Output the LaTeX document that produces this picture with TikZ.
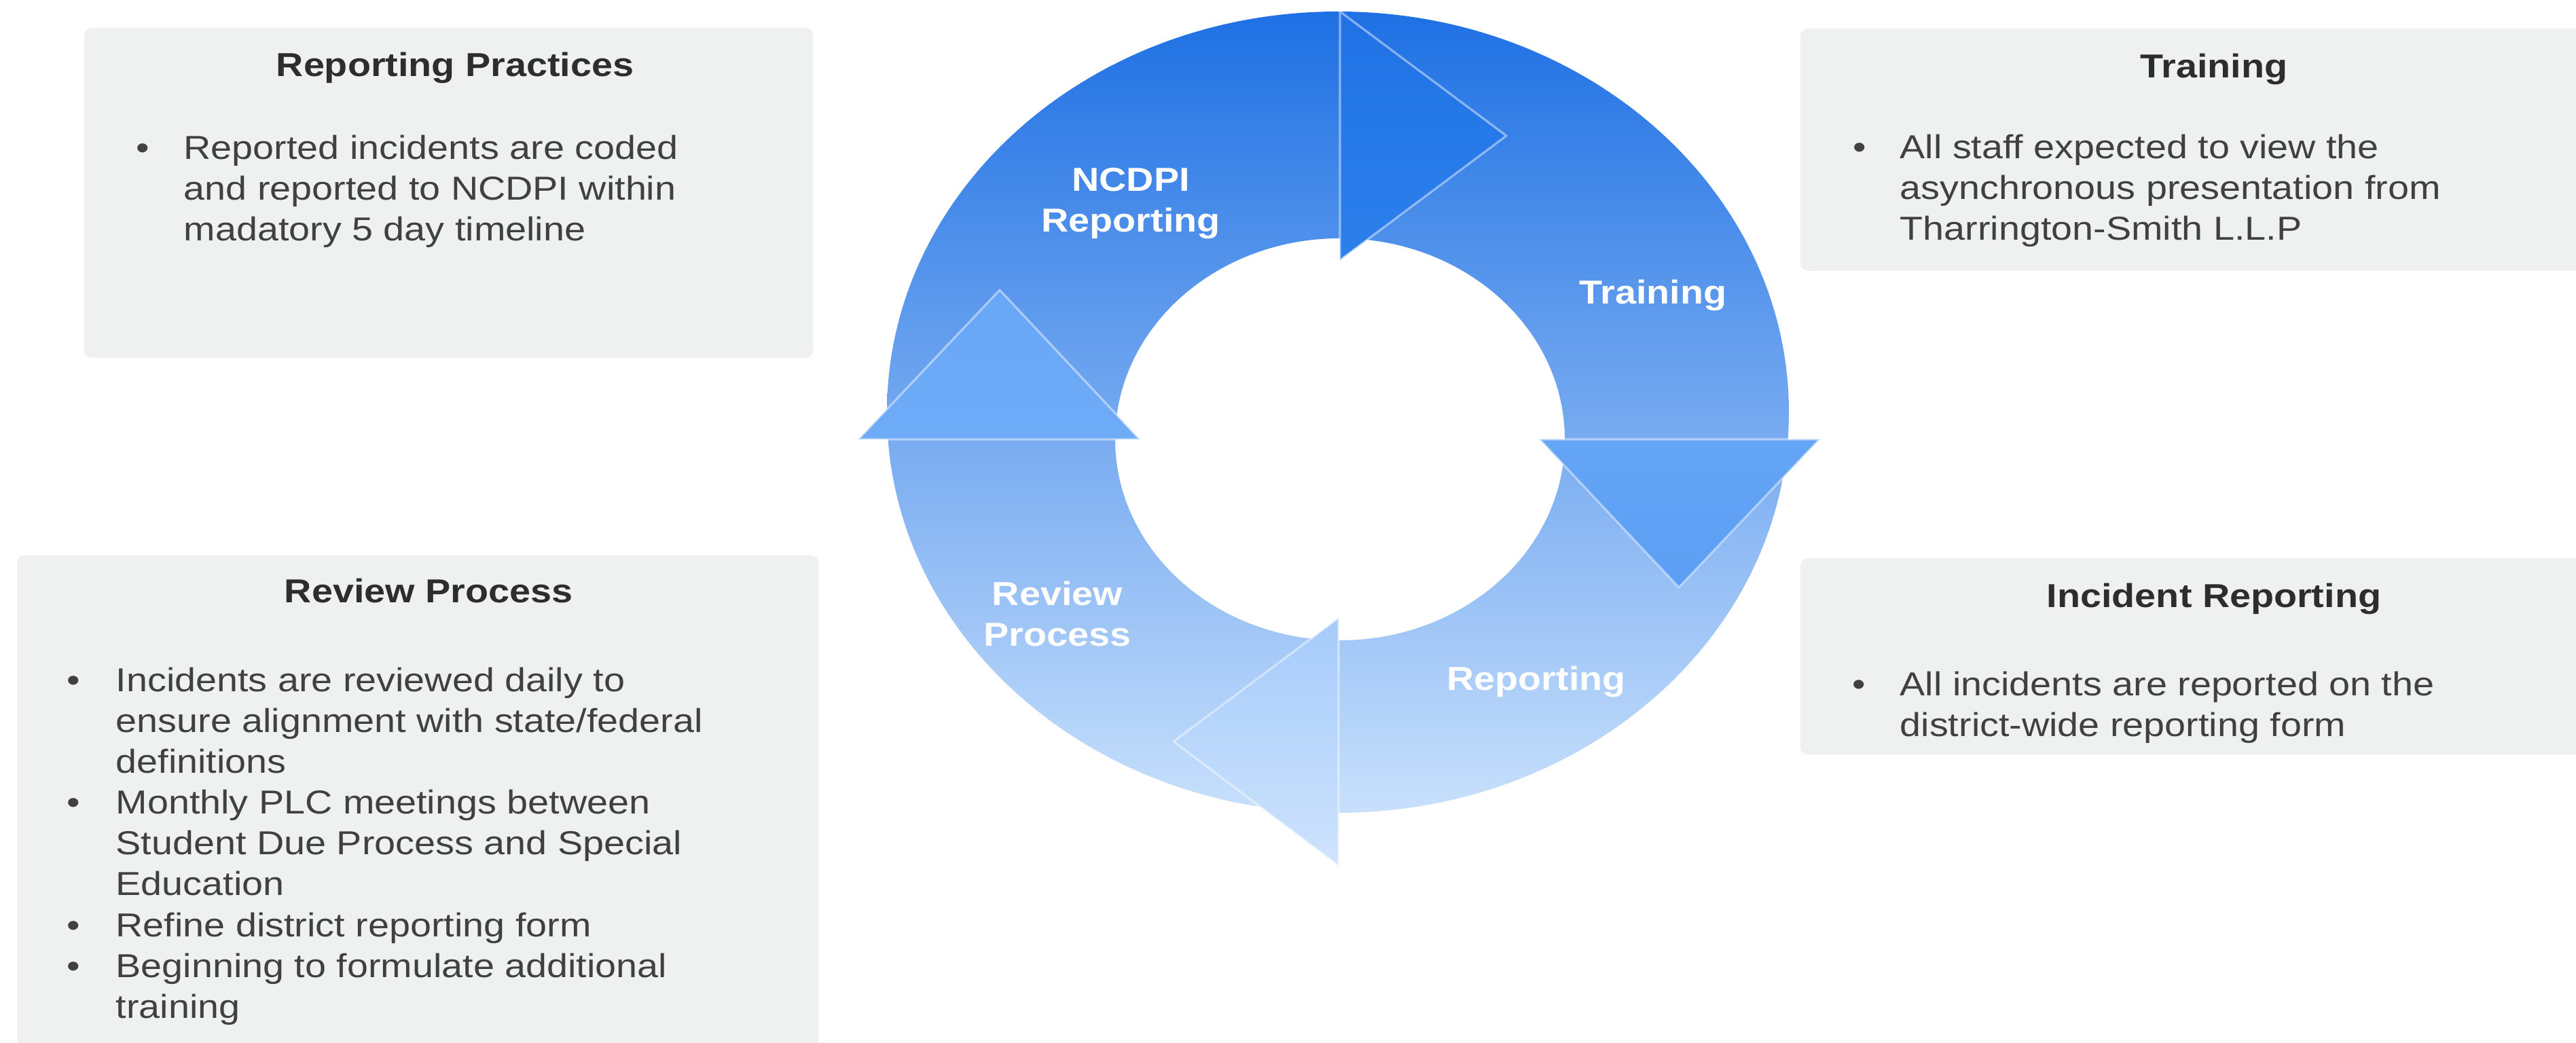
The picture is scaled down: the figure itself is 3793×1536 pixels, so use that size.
\documentclass[tikz,border=0pt]{standalone}
\usepackage{fontspec}
\setmainfont{Liberation Sans}[FakeStretch=1.14]
\usepackage{tikz}

\definecolor{boxgray}{RGB}{239,240,240}
\definecolor{txtgray}{RGB}{64,64,64}
\definecolor{ttlgray}{RGB}{45,45,45}
\definecolor{ringA}{RGB}{30,112,228}
\definecolor{ringB}{RGB}{98,166,248}
\definecolor{ringC}{RGB}{200,224,252}

\tikzset{
  infobox/.style={fill=boxgray, rounded corners=3pt},
  boxtitle/.style={font=\bfseries, text=ttlgray, anchor=base, inner sep=0},
  boxtext/.style={text=txtgray, anchor=base west, align=left, inner sep=0},
  boxbul/.style={text=txtgray, anchor=base, inner sep=0},
  ringlabel/.style={font=\bfseries, text=white, anchor=base, align=center, inner sep=0},
  arrowhd/.style={draw=white, draw opacity=.45, line width=.9pt, line join=round},
}

\begin{document}
\begin{tikzpicture}[x=0.01cm, y=0.01cm]
\fontsize{13.9pt}{17.1pt}\selectfont
\useasboundingbox (0,0) rectangle (3793,1536);

% side boxes
\path[infobox] (124,1009) rectangle (1197,1495);
\path[infobox] (25,-20) rectangle (1205,718);
\path[infobox] (2651,1137) rectangle (3820,1494);
\path[infobox] (2651,425) rectangle (3820,714);

% the cycle ring
\shade[top color=ringA, middle color=ringB, bottom color=ringC, even odd rule]
  (1970,929) ellipse[x radius=664, y radius=590]
  (1973,889) ellipse[x radius=331, y radius=296];

% arrow heads
\shade[arrowhd, top color={rgb,255:red,32;green,114;blue,229}, bottom color={rgb,255:red,44;green,128;blue,235}]
  (1973,1519) -- (2218,1336) -- (1973,1153) -- cycle;
\shade[arrowhd, top color={rgb,255:red,100;green,165;blue,246}, bottom color={rgb,255:red,92;green,158;blue,244}]
  (2267,889) -- (2679,889) -- (2472,671) -- cycle;
\shade[arrowhd, top color={rgb,255:red,165;green,203;blue,250}, bottom color={rgb,255:red,206;green,227;blue,253}]
  (1971,626) -- (1728,444) -- (1971,261) -- cycle;
\shade[arrowhd, top color={rgb,255:red,104;green,166;blue,247}, bottom color={rgb,255:red,110;green,172;blue,248}]
  (1264,889) -- (1472,1109) -- (1678,889) -- cycle;

% ring labels (base = last line)
\node[ringlabel] (lblNcdpi) at (1665,1194) {NCDPI\\Reporting};
\node[ringlabel] (lblTraining) at (2434,1088) {Training};
\node[ringlabel] (lblReview) at (1557,584) {Review\\Process};
\node[ringlabel] (lblReporting) at (2262,519) {Reporting};

% Reporting Practices
\node[boxtitle] (rpTitle) at (670,1423) {Reporting Practices};
\node[boxbul] (rpBul) at (210,1301) {\textbullet};
\node[boxtext] (rpText) at (270,1181) {Reported incidents are coded\\and reported to NCDPI within\\madatory 5 day timeline};

% Review Process
\node[boxtitle] (rvTitle) at (631,648) {Review Process};
\node[boxbul] (rvBulA) at (108,517) {\textbullet};
\node[boxtext] (rvTextA) at (170,397) {Incidents are reviewed daily to\\ensure alignment with state/federal\\definitions};
\node[boxbul] (rvBulB) at (108,337) {\textbullet};
\node[boxtext] (rvTextB) at (170,217) {Monthly PLC meetings between\\Student Due Process and Special\\Education};
\node[boxbul] (rvBulC) at (108,156) {\textbullet};
\node[boxtext] (rvTextC) at (170,156) {Refine district reporting form};
\node[boxbul] (rvBulD) at (108,96) {\textbullet};
\node[boxtext] (rvTextD) at (170,36) {Beginning to formulate additional\\training};

% Training
\node[boxtitle] (trTitle) at (3260,1421) {Training};
\node[boxbul] (trBul) at (2738,1302) {\textbullet};
\node[boxtext] (trText) at (2797,1182) {All staff expected to view the\\asynchronous presentation from\\Tharrington-Smith L.L.P};

% Incident Reporting
\node[boxtitle] (irTitle) at (3260,641) {Incident Reporting};
\node[boxbul] (irBul) at (2737,511) {\textbullet};
\node[boxtext] (irText) at (2797,451) {All incidents are reported on the\\district-wide reporting form};
\end{tikzpicture}
\end{document}
